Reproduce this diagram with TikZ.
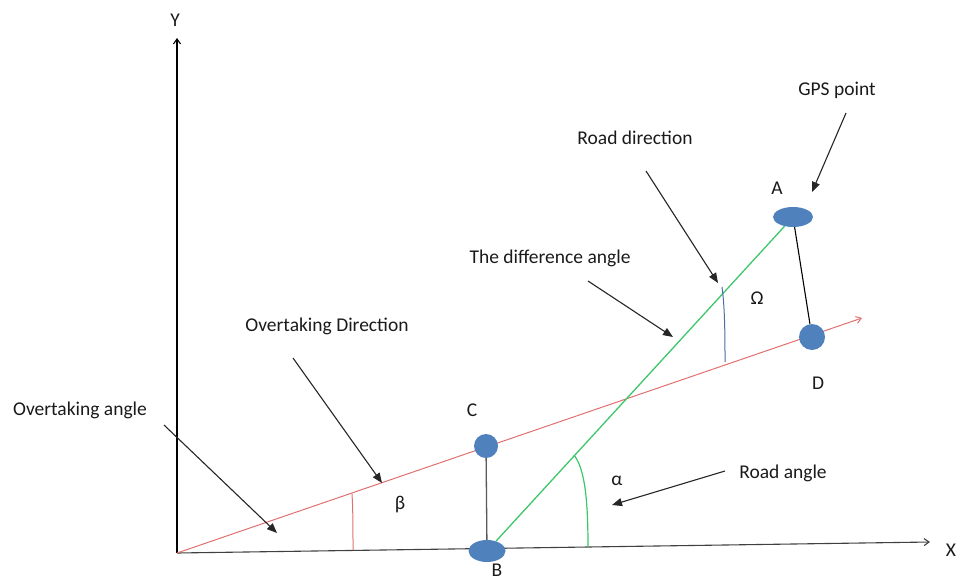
\documentclass[tikz,border=0pt]{standalone}
\usepackage{fontspec}
\setmainfont{Carlito}
\usetikzlibrary{arrows.meta,shapes.geometric}
\definecolor{ptblue}{HTML}{4F81BD}
\definecolor{rdline}{HTML}{E07070}
\definecolor{grline}{HTML}{3CC86A}
\definecolor{txt}{HTML}{1A1A1A}
\definecolor{omg}{HTML}{4A6FA0}
\begin{document}
\begin{tikzpicture}[x=1pt,y=-1pt,
  lbl/.style={font=\fontsize{19.5}{22}\selectfont, text=txt, inner sep=0pt},
  pt/.style={ellipse, fill=ptblue, draw=none, inner sep=0pt},
  ann/.style={draw=black!85, line width=1.1pt, -{Triangle[length=10pt,width=8pt]}},
  axis/.style={line width=1.1pt, -{Straight Barb[length=5pt,width=7pt]}}]
\useasboundingbox (0,0) rectangle (957,581);
% coordinates
\coordinate (O) at (177,553);
\coordinate (Xe) at (930,542);
\coordinate (Ye) at (177,38);
\coordinate (Re) at (862,318);
% lines
\draw[axis, draw=black!75] (O) -- (Xe);
\draw[axis, draw=black] (O) -- (Ye);
\draw[rdline, line width=1pt, -{Straight Barb[length=5pt,width=7pt]}] (O) -- (Re);
% points
\node[pt, minimum width=37pt, minimum height=22pt] (B) at (487,551) {};
\node[pt, minimum width=40pt, minimum height=20pt] (A) at (793,217) {};
\node[pt, minimum width=24pt, minimum height=24pt] (C) at (486,446) {};
\node[pt, minimum width=26pt, minimum height=26pt] (D) at (812,337) {};
\draw[grline, line width=1.3pt] (B) -- (A);
\draw[black!65, line width=1.3pt] (C) -- (B);
\draw[black, line width=1.1pt] (A) -- (D);
% angle arcs
\coordinate (al1) at (574,455);
\coordinate (al2) at (588,547);
\draw[grline, line width=1.2pt] (al1) .. controls (584,468) and (588,495) .. (al2);
\coordinate (be1) at (352,494);
\coordinate (be2) at (353,550);
\draw[rdline, line width=1pt] (be1) .. controls (353,510) and (353,530) .. (be2);
\coordinate (om1) at (722,287);
\coordinate (om2) at (725,362);
\draw[omg, line width=1pt] (om1) .. controls (725,308) and (725,340) .. (om2);
% labels
\node[lbl] (ly) at (175,20) {Y};
\node[lbl] (lx) at (951,550) {X};
\node[lbl] (la) at (777,188) {A};
\node[lbl] (lb) at (497,570) {B};
\node[lbl] (lc) at (472,410) {C};
\node[lbl] (ld) at (818,383) {D};
\node[lbl] (lal) at (617,481) {α};
\node[lbl] (lbe) at (400,505) {β};
\node[lbl] (lom) at (757,298) {Ω};
\node[lbl] (gps) at (837,90) {GPS point};
\node[lbl] (rdir) at (635,138) {Road direction};
\node[lbl] (diff) at (550,258) {The difference angle};
\node[lbl] (odir) at (327,326) {Overtaking Direction};
\node[lbl] (oang) at (80,410) {Overtaking angle};
\node[lbl] (rang) at (783,473) {Road angle};
% annotation arrows
\coordinate (gs) at (846,113); \coordinate (ge) at (812,192);
\coordinate (rs) at (646,171); \coordinate (re) at (718,283);
\coordinate (ds) at (588,281); \coordinate (de) at (673,337);
\coordinate (os) at (293,358); \coordinate (oe) at (382,483);
\coordinate (as) at (164,425); \coordinate (ae) at (277,533);
\coordinate (ras) at (725,471); \coordinate (rae) at (612,505);
\draw[ann] (gs) -- (ge);
\draw[ann] (rs) -- (re);
\draw[ann] (ds) -- (de);
\draw[ann] (os) -- (oe);
\draw[ann] (as) -- (ae);
\draw[ann] (ras) -- (rae);
\end{tikzpicture}
\end{document}
